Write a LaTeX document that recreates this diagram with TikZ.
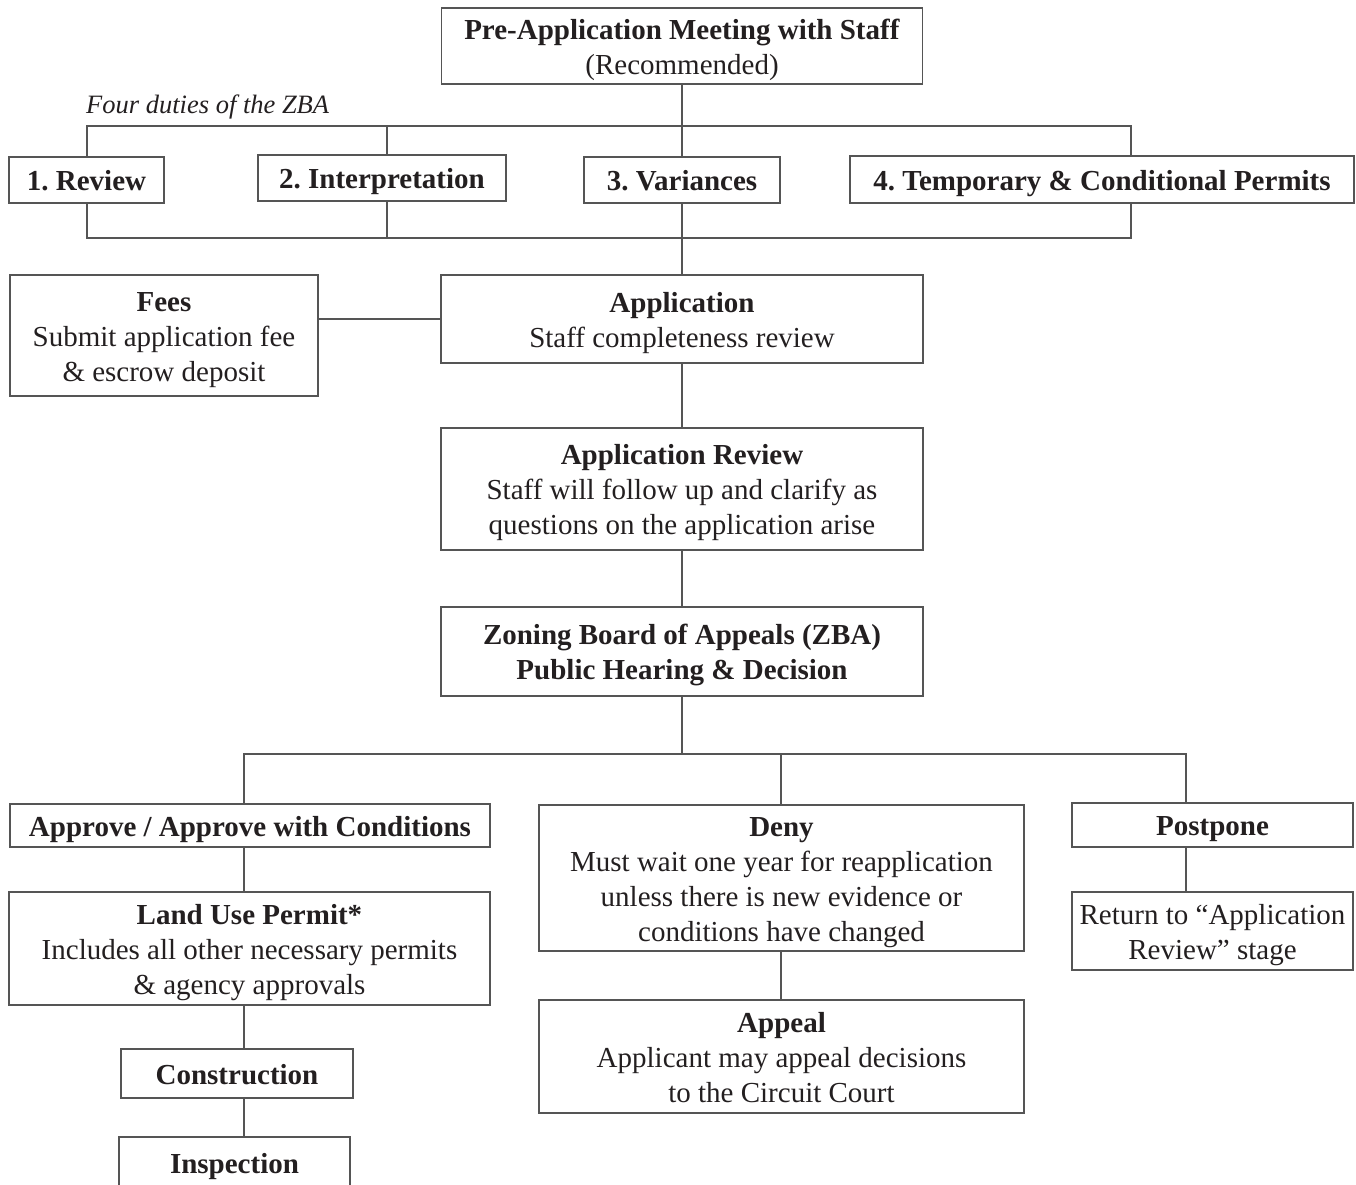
\documentclass[tikz,border=0pt]{standalone}
\usepackage{fontspec}
\setmainfont{Liberation Serif}
\definecolor{lc}{RGB}{85,85,85}
\definecolor{tc}{RGB}{35,31,32}
\newcommand\toprl{\rule{0pt}{28pt}}
\newcommand\botrl{\rule[-7pt]{0pt}{7pt}}
\frenchspacing
\begin{document}
\begin{tikzpicture}[x=1pt,y=-1pt,
  box/.style={draw=lc, line width=1.4pt, inner sep=0pt, align=center,
    font=\fontsize{29}{35}\selectfont\frenchspacing, text=tc},
  conn/.style={draw=lc, line width=1.2pt}]
\useasboundingbox (0,0) rectangle (1356,1184);
\clip (0,0) rectangle (1356,1184);

% nodes
\node[box, minimum width=481, minimum height=76] (pre) at (682,46)
  {\toprl\textbf{Pre-Application Meeting with Staff}\\(Recommended)\botrl};
\node[anchor=west, text=tc, font=\fontsize{26.5}{30}\selectfont\itshape, inner sep=0pt] (duties) at (86,107) {Four duties of the ZBA};
\node[box, minimum width=155, minimum height=46] (rev) at (86.5,180) {\toprl\textbf{1. Review}\botrl};
\node[box, minimum width=248, minimum height=46] (int) at (382,178) {\toprl\textbf{2. Interpretation}\botrl};
\node[box, minimum width=196, minimum height=46] (var) at (682,180) {\toprl\textbf{3. Variances}\botrl};
\node[box, minimum width=504, minimum height=47] (temp) at (1102,179.5) {\toprl\textbf{4. Temporary \& Conditional Permits}\botrl};

\node[box, minimum width=308, minimum height=121] (fees) at (164,335.5)
  {\toprl\textbf{Fees}\\Submit application fee\\\& escrow deposit\botrl};
\node[box, minimum width=482, minimum height=88] (app) at (682,319)
  {\toprl\textbf{Application}\\Staff completeness review\botrl};
\node[box, minimum width=482, minimum height=122] (arev) at (682,489)
  {\toprl\textbf{Application Review}\\Staff will follow up and clarify as\\questions on the application arise\botrl};
\node[box, minimum width=482, minimum height=89] (zba) at (682,651.5)
  {\toprl\textbf{Zoning Board of Appeals (ZBA)}\\\textbf{Public Hearing \& Decision}\botrl};

\node[box, minimum width=480, minimum height=43] (appr) at (250,825.5)
  {\toprl\textbf{Approve / Approve with Conditions}\botrl};
\node[box, minimum width=481, minimum height=113] (land) at (249.5,948.5)
  {\toprl\textbf{Land Use Permit*}\\Includes all other necessary permits\\\& agency approvals\botrl};
\node[box, minimum width=232, minimum height=49] (cons) at (237,1073.5) {\toprl\textbf{Construction}\botrl};
\node[box, minimum width=231, minimum height=51] (insp) at (234.5,1162.5) {\toprl\textbf{Inspection}\botrl};

\node[box, minimum width=485, minimum height=146] (deny) at (781.5,878)
  {\toprl\textbf{Deny}\\Must wait one year for reapplication\\unless there is new evidence or\\conditions have changed\botrl};
\node[box, minimum width=485, minimum height=113] (appeal) at (781.5,1056.5)
  {\toprl\textbf{Appeal}\\Applicant may appeal decisions\\to the Circuit Court\botrl};
\node[box, minimum width=281, minimum height=44] (post) at (1212.5,825) {\toprl\textbf{Postpone}\botrl};
\node[box, minimum width=281, minimum height=78] (ret) at (1212.5,931)
  {\toprl Return to “Application\\Review” stage\botrl};

% helper coordinates
\coordinate (topbar) at (0,126);
\coordinate (botbar) at (0,238);
\coordinate (decbar) at (0,754);
\coordinate (xrev) at (87,0);
\coordinate (xint) at (387,0);
\coordinate (xtemp) at (1131,0);
\coordinate (xl) at (244,0);
\coordinate (xd) at (781,0);
\coordinate (xp) at (1186,0);

% connectors
\draw[conn] (pre.south) -- (var.north);
\draw[conn] (rev.north -| xrev) -- (xrev |- topbar) -- (xtemp |- topbar) -- (temp.north -| xtemp);
\draw[conn] (int.north -| xint) -- (xint |- topbar);
\draw[conn] (rev.south -| xrev) -- (xrev |- botbar) -- (xtemp |- botbar) -- (temp.south -| xtemp);
\draw[conn] (int.south -| xint) -- (xint |- botbar);
\draw[conn] (var.south) -- (app.north);
\draw[conn] (fees.east |- app.west) -- (app.west);
\draw[conn] (app.south) -- (arev.north);
\draw[conn] (arev.south) -- (zba.north);
\draw[conn] (zba.south) -- (zba.south |- decbar);
\draw[conn] (appr.north -| xl) -- (xl |- decbar) -- (xp |- decbar) -- (post.north -| xp);
\draw[conn] (xd |- decbar) -- (deny.north -| xd);
\draw[conn] (appr.south -| xl) -- (land.north -| xl);
\draw[conn] (land.south -| xl) -- (cons.north -| xl);
\draw[conn] (cons.south -| xl) -- (insp.north -| xl);
\draw[conn] (deny.south -| xd) -- (appeal.north -| xd);
\draw[conn] (post.south -| xp) -- (ret.north -| xp);
\end{tikzpicture}
\end{document}
